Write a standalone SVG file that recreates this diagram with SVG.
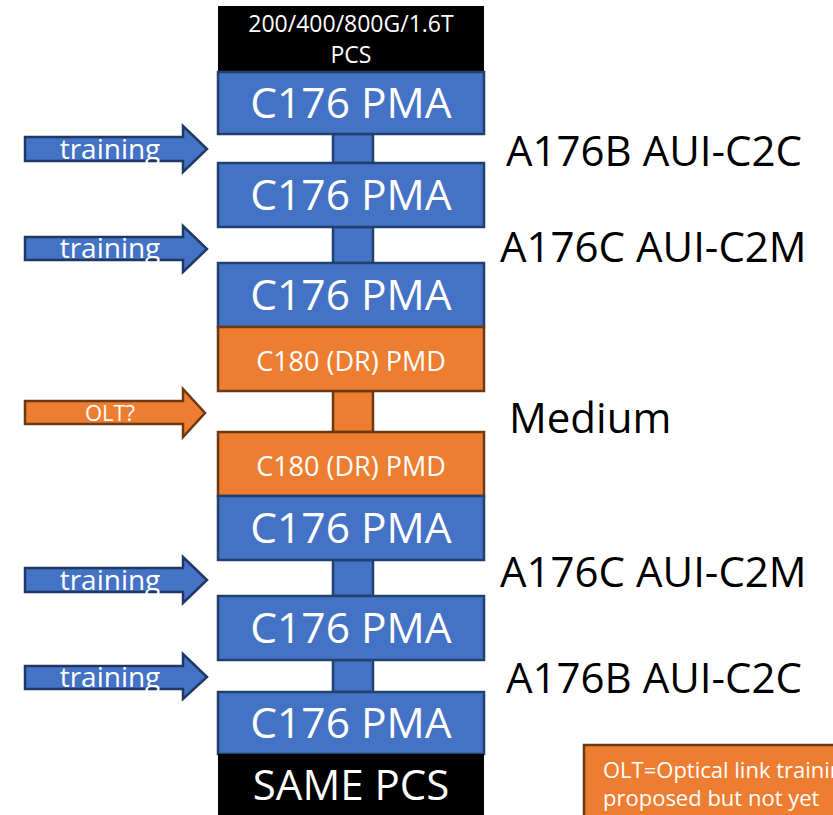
<svg xmlns="http://www.w3.org/2000/svg" width="833" height="815" viewBox="0 0 833 815">
<style>
.pma{fill:#4472C4;stroke:#22406F;stroke-width:2.5}
.pmd{fill:#ED7D31;stroke:#6E3811;stroke-width:2.5}
.blk{fill:#000}
.arrB{fill:#4472C4;stroke:#1F3864;stroke-width:2.5;stroke-linejoin:miter}
.arrO{fill:#ED7D31;stroke:#6E3811;stroke-width:2.5}
text{font-family:"Open Sans","Liberation Sans",sans-serif}
.w{fill:#fff;text-anchor:middle}
.big{font-size:42.5px}
.mid{font-size:27px}
.lbl{fill:#000;font-size:42px}
.tr{fill:#fff;font-size:28px;text-anchor:middle}
</style>
<rect width="833" height="815" fill="#fff"/>
<g id="connectors">
<rect class="pma" x="333" y="134" width="40" height="29"/>
<rect class="pma" x="333" y="227" width="40" height="36"/>
<rect class="pmd" x="333" y="391" width="40" height="41"/>
<rect class="pma" x="333" y="560" width="40" height="36"/>
<rect class="pma" x="333" y="660" width="40" height="32"/>
</g>
<g id="pcs-top">
<rect class="blk" x="218" y="6" width="266" height="66"/>
<text class="w" x="351" y="32" font-size="23">200/400/800G/1.6T</text>
<text class="w" x="351" y="63" font-size="23">PCS</text>
</g>
<g id="pma1"><rect class="pma" x="218" y="72" width="266" height="62"/><text class="w big" x="351" y="118">C176 PMA</text></g>
<g id="pma2"><rect class="pma" x="218" y="163" width="266" height="64"/><text class="w big" x="351" y="210">C176 PMA</text></g>
<g id="pma3"><rect class="pma" x="218" y="263" width="266" height="64"/><text class="w big" x="351" y="310">C176 PMA</text></g>
<g id="pmd1"><rect class="pmd" x="218" y="327" width="266" height="64"/><text class="w mid" x="351" y="371">C180 (DR) PMD</text></g>
<g id="pmd2"><rect class="pmd" x="218" y="432" width="266" height="64"/><text class="w mid" x="351" y="476">C180 (DR) PMD</text></g>
<g id="pma4"><rect class="pma" x="218" y="496" width="266" height="64"/><text class="w big" x="351" y="543">C176 PMA</text></g>
<g id="pma5"><rect class="pma" x="218" y="596" width="266" height="64"/><text class="w big" x="351" y="643">C176 PMA</text></g>
<g id="pma6"><rect class="pma" x="218" y="692" width="266" height="62"/><text class="w big" x="351" y="738">C176 PMA</text></g>
<g id="pcs-bottom">
<rect class="blk" x="218" y="754" width="266" height="62"/>
<text class="w" x="351" y="800" font-size="42">SAME PCS</text>
</g>
<g id="arrow1"><polygon class="arrB" points="25,137 183,137 183,126 207,149 183,172 183,161 25,161"/><text class="tr" x="110" y="159">training</text></g>
<g id="arrow2"><polygon class="arrB" points="25,237 183,237 183,226 207,249 183,272 183,260 25,260"/><text class="tr" x="110" y="258">training</text></g>
<g id="arrow-olt"><polygon class="arrO" points="25,401 183,401 183,389 205,413 183,437 183,424 25,424"/><text class="w" x="110" y="421" font-size="22">OLT?</text></g>
<g id="arrow3"><polygon class="arrB" points="25,568 183,568 183,557 207,580 183,603 183,592 25,592"/><text class="tr" x="110" y="590">training</text></g>
<g id="arrow4"><polygon class="arrB" points="25,666 183,666 183,654 207,677 183,699 183,689 25,689"/><text class="tr" x="110" y="687">training</text></g>
<g id="labels">
<text class="lbl" x="506" y="166">A176B AUI-C2C</text>
<text class="lbl" x="500" y="262">A176C AUI-C2M</text>
<text class="lbl" x="509" y="433">Medium</text>
<text class="lbl" x="500" y="587">A176C AUI-C2M</text>
<text class="lbl" x="506" y="693">A176B AUI-C2C</text>
</g>
<g id="note">
<rect class="pmd" x="584" y="745" width="260" height="80"/>
<text x="603" y="778" fill="#fff" font-size="22">OLT=Optical link training</text>
<text x="603" y="806" fill="#fff" font-size="22">proposed but not yet</text>
</g>
</svg>
